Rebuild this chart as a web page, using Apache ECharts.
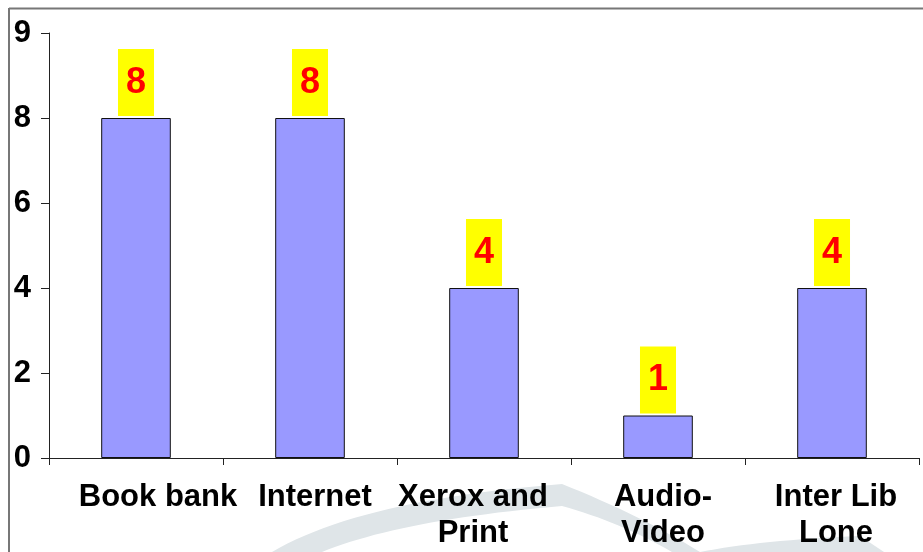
<!DOCTYPE html>
<html>
<head>
<meta charset="utf-8">
<title>Library services</title>
<script src="https://cdn.jsdelivr.net/npm/echarts@6/dist/echarts.min.js"></script>
<style>
  html, body { margin: 0; padding: 0; background: #ffffff; }
  #chart { width: 923px; height: 552px; }
</style>
</head>
<body>
<div id="chart"></div>
<script>
// Services and their counts
const categories = ['Book bank', 'Internet', 'Xerox and\nPrint', 'Audio-\nVideo', 'Inter Lib\nLone'];
const counts = [8, 8, 4, 1, 4];
// Value-axis tick labels, one per tick from 0 upward
const yTickLabels = ['0', '2', '4', '6', '8', '9'];

// Small horizontal nudges for the category names (rich-text padding)
const namePad = [[0, 0, 0, 44], [0, 0, 0, 10], [0, 22, 0, 0], [0, 0, 0, 10], [0, 0, 0, 8]];

const FONT = "'Liberation Sans', Arial, Helvetica, sans-serif";

const rich = {};
namePad.forEach((p, i) => {
  rich['c' + i] = {
    fontFamily: FONT, fontSize: 31, fontWeight: 'bold', color: '#000',
    lineHeight: 36, padding: p
  };
});

// Sample a quadratic curve into polygon points
function quad(p0, c, p1, n) {
  const pts = [];
  for (let k = 0; k <= n; k++) {
    const t = k / n, u = 1 - t;
    pts.push([
      u * u * p0[0] + 2 * u * t * c[0] + t * t * p1[0],
      u * u * p0[1] + 2 * u * t * c[1] + t * t * p1[1]
    ]);
  }
  return pts;
}

// Faint watermark arc shapes behind the category names
const arcA = [].concat(
  quad([272, 552], [360, 500], [562, 484], 24),
  quad([562, 484], [640, 515], [700, 552], 16),
  [[672, 552]],
  quad([672, 552], [620, 522], [562, 506], 16),
  quad([562, 506], [400, 520], [322, 552], 24)
);
const arcB = [].concat(
  quad([700, 552], [760, 540], [860, 536], 16),
  [[884, 552]]
);

const chart = echarts.init(document.getElementById('chart'), null, { renderer: 'canvas' });

chart.setOption({
  backgroundColor: '#ffffff',
  animation: false,
  grid: { left: 49, right: 4, top: 33, bottom: 94, containLabel: false },
  xAxis: {
    type: 'category',
    data: categories,
    axisLine: { show: true, lineStyle: { color: '#222', width: 1 } },
    axisTick: { show: true, length: 7, alignWithLabel: false, lineStyle: { color: '#222' } },
    axisLabel: {
      interval: 0,
      margin: 21,
      formatter: (v, i) => '{c' + i + '|' + v + '}',
      rich: rich
    },
    splitLine: { show: false }
  },
  yAxis: {
    type: 'value',
    min: 0,
    max: 10,
    interval: 2,
    axisLine: { show: true, lineStyle: { color: '#222', width: 1 } },
    axisTick: { show: true, length: 8, inside: false, lineStyle: { color: '#222' } },
    axisLabel: {
      margin: 18,
      fontFamily: FONT, fontSize: 31, fontWeight: 'bold', color: '#000',
      formatter: (v) => yTickLabels[Math.round(v / 2)]
    },
    splitLine: { show: false }
  },
  series: [{
    type: 'bar',
    data: counts,
    barWidth: '40%',
    itemStyle: { color: '#9999FF', borderColor: '#111', borderWidth: 1 },
    label: {
      show: true,
      position: 'top',
      distance: 2,
      fontFamily: FONT,
      fontSize: 36,
      lineHeight: 36,
      fontWeight: 'bold',
      color: '#FF0000',
      backgroundColor: '#FFFF00',
      padding: [16, 8, 15, 8]
    },
    z: 3
  }],
  graphic: [
    {
      type: 'polygon', z: -10, silent: true,
      shape: { points: arcA },
      style: { fill: '#dfe5e8' }
    },
    {
      type: 'polygon', z: -10, silent: true,
      shape: { points: arcB },
      style: { fill: '#dfe5e8' }
    },
    // outer frame (top and left edges)
    {
      type: 'line', z: 10, silent: true,
      shape: { x1: 9, y1: 8.5, x2: 923, y2: 8.5 },
      style: { stroke: '#777', lineWidth: 2 }
    },
    {
      type: 'line', z: 10, silent: true,
      shape: { x1: 9, y1: 8, x2: 9, y2: 552 },
      style: { stroke: '#777', lineWidth: 2 }
    }
  ]
});
</script>
</body>
</html>
